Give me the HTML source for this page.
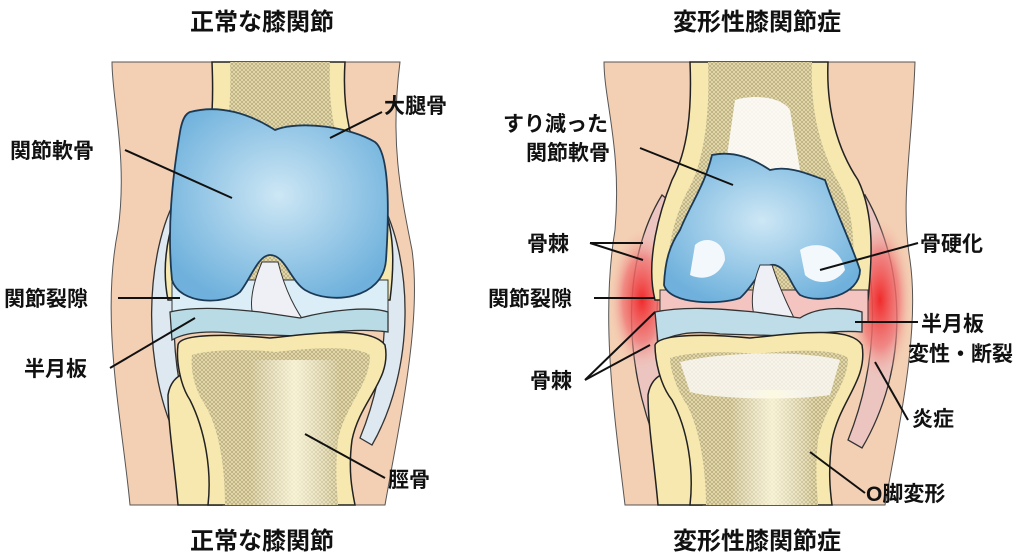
<!DOCTYPE html>
<html><head><meta charset="utf-8"><style>
body{margin:0;background:#fff;width:1024px;height:559px;overflow:hidden}
svg{display:block}
text{font-family:"Liberation Sans","Noto Sans CJK JP",sans-serif;fill:#111;font-weight:bold}
</style></head><body>
<svg width="1024" height="559" viewBox="0 0 1024 559">
<defs>
<pattern id="hatch" width="4" height="4" patternUnits="userSpaceOnUse">
<rect width="4" height="4" fill="#e6dcae"/><path d="M0 0L4 4M4 0L0 4" stroke="#b5a87a" stroke-width="0.7"/>
</pattern>
<radialGradient id="blue" cx="50%" cy="45%" r="60%"><stop offset="0" stop-color="#cde7f5"/><stop offset="1" stop-color="#6fb1dc"/></radialGradient>
<radialGradient id="red" cx="50%" cy="50%" r="50%"><stop offset="0" stop-color="#f02b2b"/><stop offset="0.6" stop-color="#f07a78" stop-opacity="0.8"/><stop offset="1" stop-color="#f4c0b0" stop-opacity="0"/></radialGradient>
<linearGradient id="shaft" x1="0" x2="1"><stop offset="0" stop-color="#fff" stop-opacity="0"/><stop offset="0.5" stop-color="#fffbe0" stop-opacity="0.8"/><stop offset="1" stop-color="#fff" stop-opacity="0"/></linearGradient>
</defs>

<!-- LEFT KNEE -->
<path d="M112 62 H400 C390 140 400 190 412 250 C422 320 400 420 385 505 H130 C122 420 100 320 118 230 C128 160 112 100 112 62Z" fill="#f3cfb3" stroke="#555" stroke-width="1"/>
<path d="M178 195 C145 250 140 370 180 445 L195 440 C165 360 170 270 192 210Z" fill="#dde8f0" stroke="#333" stroke-width="1.3"/>
<path d="M378 195 C415 260 415 370 372 445 L360 438 C392 360 392 270 366 210Z" fill="#dde8f0" stroke="#333" stroke-width="1.3"/>
<!-- femur -->
<path d="M212 62 H345 C342 110 350 150 375 190 C395 220 395 260 390 300 H168 C160 260 170 210 195 180 C212 150 214 110 212 62Z" fill="#f6e8ae" stroke="#222" stroke-width="1.5"/>
<path d="M230 62 H330 C328 110 335 150 360 190 C375 215 378 250 375 290 H180 C178 250 185 215 205 190 C226 160 232 110 230 62Z" fill="url(#hatch)"/>
<path d="M172 280 H388 V318 H172Z" fill="#dbeef7" stroke="#333" stroke-width="1"/>
<path d="M190 112 C220 104 250 114 275 130 C300 120 350 127 375 142 C388 152 390 200 386 260 C383 300 330 305 305 290 C290 280 285 255 270 255 C258 255 250 280 240 292 C225 305 180 305 172 280 C167 230 172 180 180 132 C182 120 185 114 190 112Z" fill="url(#blue)" stroke="#1c3a55" stroke-width="1.8"/>
<path d="M262 262 C250 290 245 320 265 330 L310 330 C295 310 285 290 278 262Z" fill="#eef0f5" stroke="#333" stroke-width="1"/>
<path d="M170 312 C200 305 240 310 260 312 L300 318 C330 310 370 306 388 312 V332 C360 328 330 332 300 336 L240 334 C210 330 185 332 172 340Z" fill="#b9dbe6" stroke="#333" stroke-width="1.3"/>
<path d="M168 395 C172 370 195 368 208 380 L222 505 H178 C174 460 168 425 168 395Z" fill="#f6e8ae" stroke="#222" stroke-width="1.5"/>
<path d="M178 345 C180 332 240 335 270 338 C310 334 370 325 385 345 C392 380 360 400 352 440 C348 470 352 490 355 505 H208 C212 470 205 430 190 400 C180 385 176 360 178 345Z" fill="#f6e8ae" stroke="#222" stroke-width="1.5"/>
<path d="M192 355 C215 348 260 350 275 352 C310 348 355 345 370 355 C370 385 345 405 338 440 C335 470 337 490 338 505 H225 C225 470 220 430 205 405 C195 390 190 370 192 355Z" fill="url(#hatch)"/>
<rect x="250" y="360" width="90" height="145" fill="url(#shaft)"/>

<!-- RIGHT KNEE -->
<path d="M604 62 H915 C912 150 900 200 910 260 C920 330 900 420 885 505 H625 C615 420 600 320 615 230 C622 150 604 100 604 62Z" fill="#f3cfb3" stroke="#555" stroke-width="1"/>
<path d="M662 195 C622 260 622 360 658 448 L675 440 C650 360 650 270 680 210Z" fill="#ecc5c0" stroke="#333" stroke-width="1.3"/>
<path d="M865 195 C908 270 908 370 862 448 L848 440 C880 360 880 270 852 210Z" fill="#ecc5c0" stroke="#333" stroke-width="1.3"/>
<ellipse cx="642" cy="300" rx="32" ry="70" fill="url(#red)"/>
<ellipse cx="880" cy="300" rx="32" ry="80" fill="url(#red)"/>
<path d="M690 62 H828 C826 110 838 150 858 180 C875 215 872 260 868 300 H655 C645 260 660 210 672 180 C688 150 692 110 690 62Z" fill="#f6e8ae" stroke="#222" stroke-width="1.5"/>
<path d="M708 62 H812 C810 110 820 150 840 185 C855 215 855 250 852 290 H668 C665 250 675 215 688 190 C705 160 710 110 708 62Z" fill="url(#hatch)"/>
<path d="M735 100 C750 95 780 95 790 110 L800 170 C790 175 740 175 725 170Z" fill="#fff" opacity="0.85"/>
<path d="M660 290 H868 V322 H660Z" fill="#f3c4c0" stroke="#333" stroke-width="1"/>
<path d="M712 155 C735 150 755 160 770 170 C790 165 810 175 825 180 C835 210 850 240 860 270 C860 295 820 305 800 295 C790 285 790 270 775 265 C762 262 755 285 740 298 C720 305 670 305 664 285 C665 260 670 245 680 230 C690 205 705 185 712 155Z" fill="url(#blue)" stroke="#1c3a55" stroke-width="1.8"/>
<path d="M695 245 C705 235 725 240 725 260 C720 275 705 282 690 275Z" fill="#f2f8fc"/>
<path d="M800 250 C815 240 840 245 845 270 C835 285 815 285 805 275Z" fill="#f2f8fc"/>
<path d="M760 265 C750 290 748 320 765 330 L800 330 C790 310 780 290 772 265Z" fill="#eef0f5" stroke="#333" stroke-width="1"/>
<path d="M655 312 C690 305 730 310 755 312 L800 318 C820 305 850 308 862 312 V332 C840 330 810 334 790 336 L720 334 C690 330 670 335 658 343Z" fill="#bfdde8" stroke="#333" stroke-width="1.3"/>
<path d="M648 395 C652 370 675 368 688 380 L702 505 H658 C654 460 648 425 648 395Z" fill="#f6e8ae" stroke="#222" stroke-width="1.5"/>
<path d="M655 345 C660 332 720 335 750 338 C790 334 850 325 862 345 C868 380 840 400 832 440 C828 470 830 490 832 505 H690 C694 470 688 430 672 400 C660 385 655 360 655 345Z" fill="#f6e8ae" stroke="#222" stroke-width="1.5"/>
<path d="M670 358 C695 350 740 352 755 354 C790 350 835 348 848 358 C848 385 825 405 818 440 C815 470 817 490 818 505 H706 C706 470 700 430 687 405 C677 390 670 370 670 358Z" fill="url(#hatch)"/>
<path d="M680 362 C720 352 800 350 840 360 L830 395 C800 400 720 400 690 392Z" fill="#fff" opacity="0.75"/>
<rect x="730" y="390" width="85" height="115" fill="url(#shaft)"/>

<g stroke="#111" stroke-width="2" fill="none">
<line x1="382" y1="112" x2="330" y2="138"/>
<line x1="125" y1="150" x2="232" y2="198"/>
<line x1="118" y1="298" x2="180" y2="298"/>
<line x1="110" y1="368" x2="195" y2="318"/>
<line x1="385" y1="478" x2="305" y2="434"/>
<line x1="640" y1="148" x2="733" y2="185"/>
<line x1="590" y1="243" x2="643" y2="243"/>
<line x1="590" y1="243" x2="643" y2="260"/>
<line x1="594" y1="298" x2="655" y2="298"/>
<line x1="585" y1="380" x2="655" y2="312"/>
<line x1="585" y1="380" x2="650" y2="345"/>
<line x1="918" y1="243" x2="820" y2="270"/>
<line x1="918" y1="322" x2="855" y2="322"/>
<line x1="908" y1="420" x2="875" y2="362"/>
<line x1="865" y1="493" x2="810" y2="452"/>
</g>

<g font-size="21">
<text x="262" y="30" text-anchor="middle" font-size="24">正常な膝関節</text>
<text x="262" y="549" text-anchor="middle" font-size="24">正常な膝関節</text>
<text x="757" y="30" text-anchor="middle" font-size="24">変形性膝関節症</text>
<text x="757" y="549" text-anchor="middle" font-size="24">変形性膝関節症</text>
<text x="384" y="113">大腿骨</text>
<text x="10" y="158">関節軟骨</text>
<text x="4" y="306">関節裂隙</text>
<text x="24" y="376">半月板</text>
<text x="388" y="487">脛骨</text>
<text x="503" y="131">すり減った</text>
<text x="526" y="160">関節軟骨</text>
<text x="527" y="251">骨棘</text>
<text x="488" y="306">関節裂隙</text>
<text x="530" y="388">骨棘</text>
<text x="920" y="251">骨硬化</text>
<text x="921" y="331">半月板</text>
<text x="908" y="361">変性・断裂</text>
<text x="912" y="426">炎症</text>
<text x="866" y="501">O脚変形</text>
</g>
</svg>
</body></html>
